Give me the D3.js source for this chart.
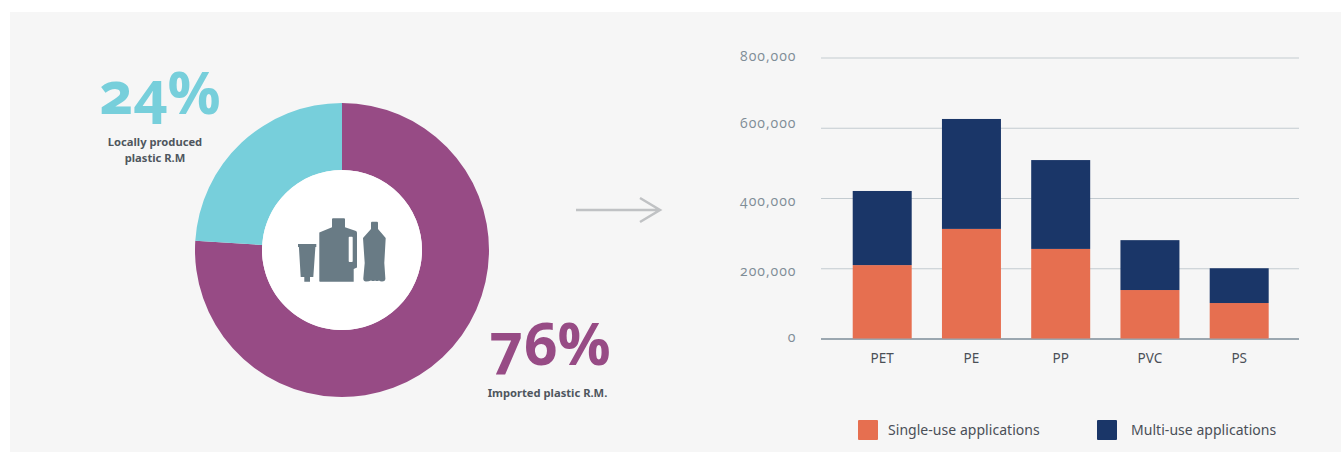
<!DOCTYPE html>
<html><head><meta charset="utf-8">
<script src="https://cdn.jsdelivr.net/npm/d3@7/dist/d3.min.js"></script>
<style>
html,body{margin:0;padding:0;background:#fff;}
svg{display:block;}
text{font-family:"Noto Sans","Open Sans",sans-serif;}
.big{font-family:"Open Sans";font-weight:700;font-variant-numeric:oldstyle-nums;font-size:59px;}
.lab{font-weight:700;font-size:11.2px;fill:#4f565e;}
</style></head><body>
<svg id="c" width="1341" height="452"></svg>
<script>
const shareLabels = ["Imported plastic R.M.", "Locally produced plastic R.M"];
const shareValues = [76, 24];
const categories = ["PET", "PE", "PP", "PVC", "PS"];
const singleUse = [209000, 312000, 255000, 138000, 101000];
const multiUse = [211000, 313000, 253000, 142000, 99000];
const yTicks = [0, 200000, 400000, 600000, 800000];
const seriesNames = ["Single-use applications", "Multi-use applications"];

const svg = d3.select("#c");
svg.append("rect").attr("x",10).attr("y",12).attr("width",1331).attr("height",440).attr("fill","#f6f6f6");

// donut
const donutColor = d3.scaleOrdinal().domain(shareLabels).range(["#974b85","#77cfdb"]);
const pie = d3.pie().sort(null);
const arc = d3.arc().innerRadius(80).outerRadius(147);
const donut = svg.append("g").attr("transform","translate(342,250)");
donut.selectAll("path").data(pie(shareValues)).join("path")
  .attr("d",arc).attr("fill",(d,i)=>donutColor(shareLabels[i]));
donut.append("circle").attr("r",80).attr("fill","#fff");

// icon
const icon = svg.append("g").attr("fill","#697b85");
icon.append("path").attr("d","M298 244H316.3V247H315.4L313.3 277H310V281.7H304.3V277H300.7L298.9 247H298Z");
icon.append("path").attr("fill-rule","evenodd").attr("d","M333 218.3H344Q345 218.3 345 219.5V227.3L356 231Q357 231.5 357 233V267.5L353.7 269V281.7H320Q319.3 281.7 319.3 281V232.5L332 227.3V219.5Q332 218.3 333 218.3ZM349.5 236.7Q348.7 236.7 348.7 237.5V261Q348.7 262 349.5 262H352Q352.7 262 352.7 261V237.5Q352.7 236.7 352 236.7Z");
icon.append("path").attr("d","M372 221.7H377Q378 221.7 378 223V229L385.7 238L384.3 263L385.4 279Q385 281.5 382 281.5Q380 281.5 379 280.5Q377 281.5 375 280.5Q373.5 281.5 371 280.5Q369 281.5 366 281.5Q363.3 281.5 363.3 278.5L364.7 263L363 238L371 229V223Q371 221.7 372 221.7Z");

// share labels
svg.append("text").attr("class","big").attr("x",160).attr("y",113.5).attr("text-anchor","middle").attr("fill","#77cfdb").text(shareValues[1]+"%");
svg.append("text").attr("class","big").attr("x",550).attr("y",364.5).attr("text-anchor","middle").attr("fill","#974b85").text(shareValues[0]+"%");
svg.append("text").attr("class","lab").attr("x",155).attr("y",146).attr("text-anchor","middle").text("Locally produced");
svg.append("text").attr("class","lab").attr("x",155).attr("y",162).attr("text-anchor","middle").text("plastic R.M");
svg.append("text").attr("class","lab").attr("x",547.5).attr("y",397).attr("text-anchor","middle").text(shareLabels[0]);

// arrow
svg.append("path").attr("d","M576 210H660M640 198L660 210L640 222").attr("fill","none").attr("stroke","#c0c2c4").attr("stroke-width",2.5);

// bars
const x = d3.scaleBand().domain(categories).range([821.7,1299.7]).paddingInner(0.339).paddingOuter(0.3475);
const y = d3.scaleLinear().domain([0,800000]).range([338.5,57.5]);
const stack = d3.stack().keys([0,1]).value((row,k)=>row[k]);
const rows = categories.map((c,i)=>[singleUse[i],multiUse[i]]);
const barColor = d3.scaleOrdinal().domain(seriesNames).range(["#e66f50","#1a3668"]);

const yAxis = d3.axisLeft(y).tickValues(yTicks).tickFormat(d3.format(",")).tickSize(0).tickPadding(24.5);
const gy = svg.append("g").attr("transform","translate(821,0)").call(yAxis);
gy.select(".domain").remove();
const labelNudge = new Map([[0,2.3],[200000,7],[400000,6.5],[600000,-0.5],[800000,1.8]]);
gy.selectAll("text").attr("font-size",14).attr("letter-spacing","1px").attr("fill","#7f8d97")
  .style("font-family","'Open Sans'").style("font-variant-numeric","oldstyle-nums")
  .attr("y",d=>labelNudge.get(d)).attr("dy","0.05em");
gy.selectAll(".tick").append("line").attr("x1",0).attr("x2",478)
  .attr("stroke",d=>d===0?"#7c8c99":"#c3cbd0").attr("stroke-width",d=>d===0?1.5:1.2);

stack(rows).forEach((s,k)=>{
  svg.append("g").attr("fill",barColor(seriesNames[k])).selectAll("rect").data(s).join("rect")
    .attr("x",(d,i)=>x(categories[i])).attr("width",x.bandwidth())
    .attr("y",d=>y(d[1])).attr("height",d=>y(d[0])-y(d[1]));
});

const xAxis = d3.axisBottom(x).tickSize(0).tickPadding(14);
const gx = svg.append("g").attr("transform","translate(0,339)").call(xAxis);
gx.select(".domain").remove();
gx.selectAll("text").attr("font-size",13.5).attr("fill","#4a4f57");

// legend
const legendX = [858,1097], legendTextX=[888,1131];
seriesNames.forEach((n,i)=>{
  svg.append("rect").attr("x",legendX[i]).attr("y",420).attr("width",20).attr("height",20).attr("rx",1).attr("fill",barColor(n));
  svg.append("text").attr("x",legendTextX[i]).attr("y",435).attr("font-size",14).attr("letter-spacing","0.04px").attr("fill","#4a4f57").text(n);
});
</script></body></html>
